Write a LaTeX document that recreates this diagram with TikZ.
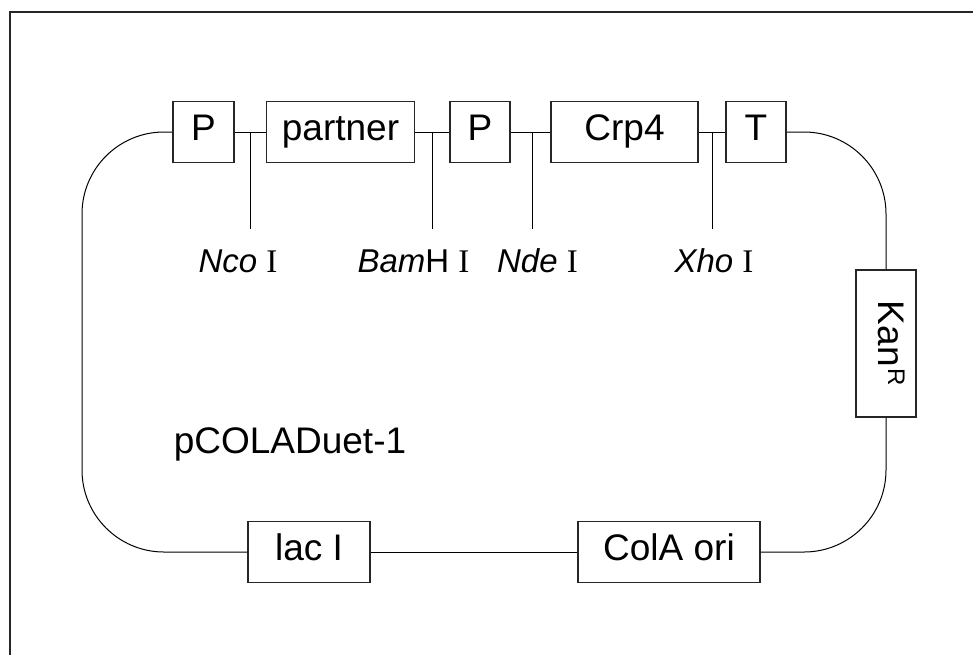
\documentclass[tikz,border=0pt]{standalone}
\usepackage{fontspec}
\setmainfont{Liberation Sans}
\newfontfamily\romfont{Liberation Serif}
\usetikzlibrary{positioning}

\begin{document}
\begin{tikzpicture}[x=0.5pt, y=-0.5pt, line width=0.5pt,
    box/.style={draw=black!85, line width=0.75pt, inner sep=0pt,
        minimum height=30.5pt, text height=0.8em, text depth=0pt,
        font=\fontsize{18.5}{22}\selectfont},
    site/.style={anchor=base, font=\fontsize{16.5}{20}\selectfont}]
                        \useasboundingbox (0,0) rectangle (973,654);
                        \draw[black!85, line width=1pt] (10,12) rectangle (1000,700);
                        % top row
                        \node[box, minimum width=30.5pt] (p1) at (203.5,132) {P};
                        \node[box, minimum width=74pt] (partner) at (340.5,132) {partner};
                        \node[box, minimum width=30pt] (p2) at (480,132) {P};
                        \node[box, minimum width=73.5pt] (crp) at (624.5,132) {Crp4};
                        \node[box, minimum width=30pt] (t) at (756,132) {T};
                        % right side and bottom
                        \node[box, rotate=-90, minimum width=73.5pt, minimum height=30pt] (kan) at (886,343.5) {Kan\kern1pt\raisebox{5pt}{\fontsize{12}{14}\selectfont R}};
                        \node[box, minimum width=91pt] (cola) at (669,552) {ColA ori};
                        \node[box, minimum width=61pt] (laci) at (309,552) {lac I};
                        \node[anchor=base, font=\fontsize{18.5}{22}\selectfont] (name) at (290,453) {pCOLADuet-1};
                        \coordinate (lft) at (82,340);
                        % sites
                        \coordinate (nco) at (250,132);
                        \coordinate (bam) at (432,132);
                        \coordinate (nde) at (532,132);
                        \coordinate (xho) at (712,132);
                        \node[site] (ncol) at (238,272) {\textit{Nco} {\romfont I}};
                        \node[site] (baml) at (413.5,272) {\textit{Bam}H {\romfont I}};
                        \node[site] (ndel) at (537.5,272) {\textit{Nde} {\romfont I}};
                        \node[site] (xhol) at (714,272) {\textit{Xho} {\romfont I}};
                        \draw
                        (p1) -- (partner) (partner) -- (p2)
                        (p2) -- (crp) (crp) -- (t)
                        (cola) -- (laci)
                        (nco) -- ++(0,97) (bam) -- ++(0,97)
                        (nde) -- ++(0,97) (xho) -- ++(0,97);
                        \draw[rounded corners=41pt]
                        (t.east) -| (kan.west)
                        (kan.east) |- (cola.east)
                        (laci.west) -| (lft) |- (p1.west);
                    \end{tikzpicture}
\end{document}
